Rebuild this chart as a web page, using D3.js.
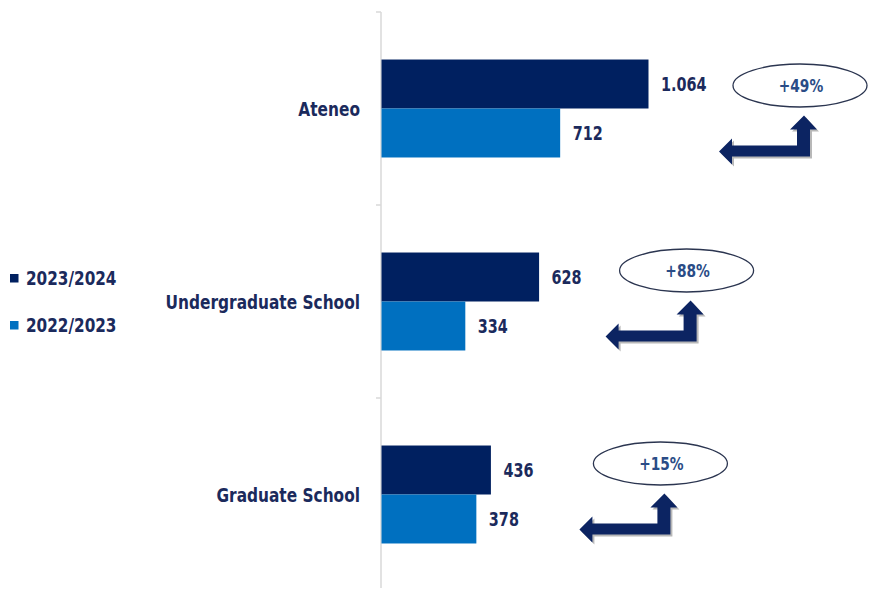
<!DOCTYPE html>
<html><head><meta charset="utf-8">
<script src="https://cdn.jsdelivr.net/npm/d3@7"></script>
<style>
html,body{margin:0;padding:0;background:#fff;}
svg{display:block;}
text{font-family:"DejaVu Sans Condensed","Liberation Sans Narrow",sans-serif;font-weight:bold;}
</style></head>
<body>
<svg id="chart" width="870" height="589"></svg>
<script>
const categories = ["Ateneo", "Undergraduate School", "Graduate School"];
const series = ["2023/2024", "2022/2023"];
const values2023_24 = [1064, 628, 436];
const values2022_23 = [712, 334, 378];
const valueLabels2023_24 = ["1.064", "628", "436"];
const valueLabels2022_23 = ["712", "334", "378"];
const growthLabels = ["+49%", "+88%", "+15%"];
const colors = ["#002060", "#0070c0"];
const textColor = "#1b2a5c";

const svg = d3.select("#chart");
const x0 = 381, yTop = 12, yBottom = 591;
const x = d3.scaleLinear().domain([0, 1064]).range([x0, 648]);
const y = d3.scaleBand().domain(categories).range([yTop, yBottom]).paddingInner(0).paddingOuter(0);
const inner = d3.scaleBand().domain(series).range([0, y.bandwidth()]).paddingInner(0).paddingOuter(0.97);

const data = categories.map((c, i) => ({
  cat: c,
  vals: [values2023_24[i], values2022_23[i]],
  labs: [valueLabels2023_24[i], valueLabels2022_23[i]],
  growth: growthLabels[i]
}));

// condensed text helper: place at (px,py), compress horizontally
function narrowText(sel, px, py, sx) {
  return sel.attr("x", 0).attr("y", 0)
    .attr("transform", (d, i) => `translate(${typeof px === "function" ? px(d, i) : px},${typeof py === "function" ? py(d, i) : py}) scale(${sx},1)`);
}

// axis line with band ticks
svg.append("line").attr("x1", x0).attr("x2", x0).attr("y1", yTop).attr("y2", 588)
  .attr("stroke", "#d9d9d9").attr("stroke-width", 1.5);
categories.forEach(c => {
  svg.append("line").attr("x1", x0 - 5).attr("x2", x0).attr("y1", y(c)).attr("y2", y(c))
    .attr("stroke", "#d9d9d9").attr("stroke-width", 1.5);
});

// bars
const g = svg.selectAll("g.cat").data(data).enter().append("g").attr("class", "cat")
  .attr("transform", d => `translate(0,${y(d.cat)})`);

const rows = d => d.vals.map((v, j) => ({v, s: series[j], j, lab: d.labs[j]}));

g.selectAll("rect").data(rows).enter().append("rect")
  .attr("x", x0 + 0.5)
  .attr("y", d => inner(d.s))
  .attr("width", d => x(d.v) - x0)
  .attr("height", inner.bandwidth())
  .attr("fill", d => colors[d.j]);

narrowText(
  g.selectAll("text.val").data(rows).enter().append("text").attr("class", "val"),
  d => x(d.v) + 13, d => inner(d.s) + inner.bandwidth() / 2, 0.8)
  .attr("dy", "0.36em")
  .attr("font-size", 20)
  .attr("fill", textColor)
  .text(d => d.lab);

// category labels
narrowText(
  svg.selectAll("text.cat").data(categories).enter().append("text").attr("class", "cat"),
  360, d => y(d) + y.bandwidth() / 2, 0.855)
  .attr("dy", "0.36em").attr("text-anchor", "end")
  .attr("font-size", 20).attr("fill", textColor).text(d => d);

// legend
const legY = [278, 325];
series.forEach((s, i) => {
  svg.append("rect").attr("x", 10).attr("y", legY[i] - 4).attr("width", 8.5).attr("height", 8.5).attr("fill", colors[i]);
  narrowText(svg.append("text"), 26, legY[i], 0.87).attr("dy", "0.36em")
    .attr("font-size", 19.5).attr("fill", textColor).text(s);
});

// growth annotations (ellipse + elbow arrow)
const annDx = [152, 148, 170];
const annDy = [-23, -31, -31];
function arrowPath(tx, ty) {
  const p = [
    [tx, ty], [tx + 13, ty + 14], [tx + 6, ty + 14], [tx + 6, ty + 41],
    [tx - 72, ty + 41], [tx - 72, ty + 49], [tx - 85, ty + 36], [tx - 72, ty + 23],
    [tx - 72, ty + 30], [tx - 7, ty + 30], [tx - 7, ty + 14], [tx - 14, ty + 14]
  ];
  return "M" + p.map(q => q.join(",")).join("L") + "Z";
}
data.forEach((d, i) => {
  const cx = x(d.vals[0]) + annDx[i];
  const cy = y(d.cat) + y.bandwidth() / 2 + annDy[i];
  const ann = svg.append("g");
  ann.append("ellipse").attr("cx", cx).attr("cy", cy).attr("rx", 67).attr("ry", 21.5)
    .attr("fill", "#fff").attr("stroke", "#2b3550").attr("stroke-width", 1.3);
  narrowText(ann.append("text"), cx + 1, cy, 0.9).attr("dy", "0.36em").attr("text-anchor", "middle")
    .attr("font-size", 17).attr("fill", "#2a4c86").text(d.growth);
  const tx = cx + 4, ty = cy + 30;
  ann.append("path").attr("d", arrowPath(tx + 2, ty + 2)).attr("fill", "#b8b8b8");
  ann.append("path").attr("d", arrowPath(tx, ty)).attr("fill", "#0c2462");
});
</script>
</body></html>
